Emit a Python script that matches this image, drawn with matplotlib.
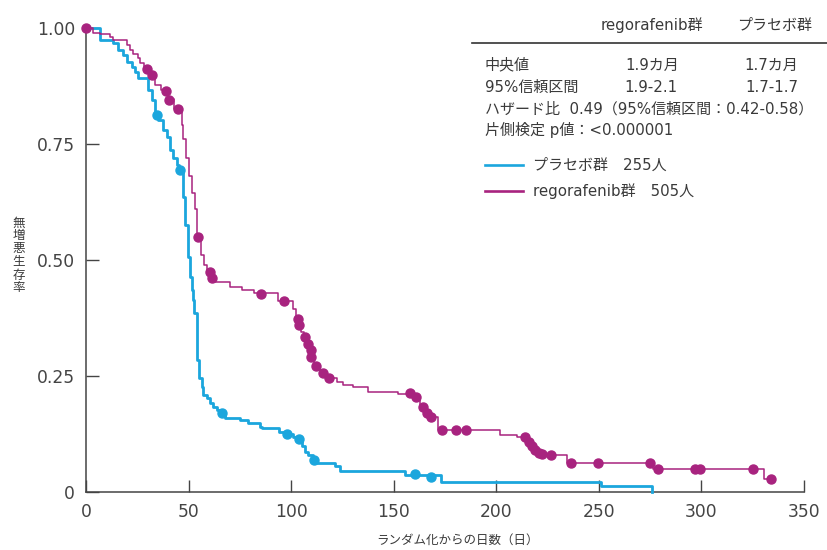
import matplotlib.pyplot as plt

plt.rcParams['font.family'] = ['DejaVu Sans', 'Noto Sans CJK JP']

# Kaplan-Meier steps (days, survival after step)
t_rego = [0, 3.6, 6.8, 11.7, 13.3, 19.9, 21.5, 23, 25.5, 26.3, 28.5, 31.5, 33.7, 36.5, 40, 43,
          46.7, 47.5, 48.6, 50, 51.5, 53, 54.3, 56, 57.5, 59, 61, 62.5, 70, 76, 82, 93.7,
          101, 102.5, 103.5, 105, 106.5, 107.5, 109, 109.8, 111, 114, 117, 122.3, 125.4, 130,
          137.6, 152, 160, 163, 165, 167, 171.7, 202, 210, 215, 216.5, 218, 219.5, 221, 223,
          234.5, 276.6, 330.7, 333.7]
s_rego = [1.0, 0.989, 0.986, 0.981, 0.974, 0.963, 0.953, 0.945, 0.935, 0.925, 0.912, 0.899,
          0.877, 0.866, 0.846, 0.826, 0.79, 0.76, 0.72, 0.68, 0.645, 0.61, 0.55, 0.51, 0.49,
          0.475, 0.461, 0.453, 0.442, 0.435, 0.428, 0.412, 0.395, 0.373, 0.36, 0.345, 0.333,
          0.32, 0.307, 0.29, 0.272, 0.257, 0.246, 0.238, 0.231, 0.226, 0.216, 0.211, 0.204,
          0.184, 0.17, 0.161, 0.134, 0.123, 0.119, 0.108, 0.099, 0.09, 0.085, 0.082, 0.079,
          0.062, 0.049, 0.027, 0.027]
cens_t_rego = [0, 29.6, 32, 39, 40.6, 45, 54.6, 60.5, 61.6, 85.2, 96.7, 103.1, 103.9, 106.8,
               108.1, 109.8, 109.8, 112.2, 115.4, 118.5, 158, 161, 164.5, 166, 168, 173.5,
               180.3, 185.2, 214, 215.8, 217.4, 219, 220.6, 222.3, 226.7, 236.4, 249.4, 274.8,
               278.7, 296.7, 299.5, 325.2, 333.7]
cens_s_rego = [1.0, 0.911, 0.899, 0.864, 0.845, 0.826, 0.549, 0.475, 0.461, 0.427, 0.412,
               0.373, 0.36, 0.333, 0.32, 0.307, 0.29, 0.272, 0.257, 0.246, 0.213, 0.204,
               0.184, 0.17, 0.161, 0.134, 0.134, 0.134, 0.119, 0.108, 0.099, 0.09, 0.085,
               0.082, 0.079, 0.062, 0.062, 0.062, 0.049, 0.049, 0.049, 0.049, 0.027]

t_plac = [0, 6.8, 13.2, 15.6, 18, 19.8, 22.3, 23.9, 25.5, 30.3, 32, 33.5, 35, 37.6, 39.4, 41,
          42.6, 44.2, 45.5, 47.2, 48.3, 49.6, 50.7, 51.5, 52.3, 52.8, 54.3, 55.1, 56.4, 57.2,
          58.9, 60.5, 62.1, 63.7, 65.5, 67.8, 75, 79, 84.9, 86, 94.3, 97, 101, 103, 105.2,
          106.8, 108.4, 110.5, 112.5, 121.5, 123.9, 155.6, 173.2, 251, 276]
s_plac = [1.0, 0.974, 0.967, 0.953, 0.942, 0.927, 0.917, 0.906, 0.892, 0.866, 0.845, 0.815,
          0.802, 0.78, 0.766, 0.737, 0.719, 0.705, 0.694, 0.636, 0.575, 0.507, 0.464, 0.435,
          0.414, 0.385, 0.284, 0.245, 0.227, 0.209, 0.202, 0.191, 0.184, 0.177, 0.171, 0.159,
          0.155, 0.148, 0.141, 0.137, 0.13, 0.125, 0.119, 0.1135, 0.099, 0.087, 0.08, 0.07,
          0.062, 0.056, 0.046, 0.036, 0.022, 0.0136, 0.0]
cens_t_plac = [34.5, 45.9, 66.2, 97.9, 103.6, 110.9, 160.5, 168.1]
cens_s_plac = [0.8125, 0.694, 0.171, 0.125, 0.1135, 0.07, 0.039, 0.033]

x_ticks = [0, 50, 100, 150, 200, 250, 300, 350]
y_ticks = [0, 0.25, 0.5, 0.75, 1.0]
y_tick_labels = ['0', '0.25', '0.50', '0.75', '1.00']

col_plac = '#1BA6DD'
col_rego = '#A8237F'
col_text = '#3a3a3a'

fig = plt.figure(figsize=(8.27, 5.5), dpi=100)
ax = fig.add_axes([86 / 827, 58 / 550, 718 / 827, 464 / 550])

ax.step(t_plac, s_plac, where='post', color=col_plac, lw=2.0, clip_on=False, zorder=3)
ax.plot(cens_t_plac, cens_s_plac, 'o', color=col_plac, ms=6.5, clip_on=False, zorder=4)
ax.step(t_rego, s_rego, where='post', color=col_rego, lw=1.1, clip_on=False, zorder=3)
ax.plot(cens_t_rego, cens_s_rego, 'o', color=col_rego, ms=6.5, clip_on=False, zorder=4)

ax.set_xlim(0, 350)
ax.set_ylim(0, 1.0)
ax.set_xticks(x_ticks)
ax.set_xticklabels([str(v) for v in x_ticks])
ax.set_yticks(y_ticks)
ax.set_yticklabels(y_tick_labels)
ax.tick_params(direction='in', length=9, width=1, color='#444444',
               labelcolor='#444444', labelsize=12.3)
ax.tick_params(axis='x', pad=8)
ax.tick_params(axis='y', pad=8)
for side in ['top', 'right']:
    ax.spines[side].set_visible(False)
for side in ['left', 'bottom']:
    ax.spines[side].set_color('#444444')
    ax.spines[side].set_linewidth(1.1)


def px(x, y):
    return x / 827, 1 - y / 550


fig.text(*px(457, 540), 'ランダム化からの日数（日）', fontsize=9, color=col_text,
         ha='center', va='center')
for i, ch in enumerate('無増悪生存率'):
    fig.text(*px(19, 223 + 13 * i), ch, fontsize=9, color=col_text,
             ha='center', va='center')

fs = 10.8
fig.text(*px(652, 25), 'regorafenib群', fontsize=fs, color=col_text, ha='center', va='center')
fig.text(*px(775, 25), 'プラセボ群', fontsize=fs, color=col_text, ha='center', va='center')
fig.add_artist(plt.Line2D([472 / 827, 1.0], [1 - 43 / 550] * 2, color='#333333', lw=1.2))
fig.text(*px(485, 65), '中央値', fontsize=fs, color=col_text, ha='left', va='center')
fig.text(*px(652, 65), '1.9カ月', fontsize=fs, color=col_text, ha='center', va='center')
fig.text(*px(771, 65), '1.7カ月', fontsize=fs, color=col_text, ha='center', va='center')
fig.text(*px(485, 87), '95%信頼区間', fontsize=fs, color=col_text, ha='left', va='center')
fig.text(*px(651, 87), '1.9-2.1', fontsize=fs, color=col_text, ha='center', va='center')
fig.text(*px(772, 87), '1.7-1.7', fontsize=fs, color=col_text, ha='center', va='center')
fig.text(*px(485, 109), 'ハザード比  0.49（95%信頼区間：0.42-0.58）', fontsize=fs,
         color=col_text, ha='left', va='center')
fig.text(*px(485, 130), '片側検定 p値：<0.000001', fontsize=fs, color=col_text,
         ha='left', va='center')

fig.add_artist(plt.Line2D([485 / 827, 523 / 827], [1 - 165 / 550] * 2, color=col_plac, lw=1.9))
fig.add_artist(plt.Line2D([485 / 827, 523 / 827], [1 - 191 / 550] * 2, color=col_rego, lw=1.9))
fig.text(*px(533, 165), 'プラセボ群　255人', fontsize=fs, color=col_text, ha='left', va='center')
fig.text(*px(533, 191), 'regorafenib群　505人', fontsize=fs, color=col_text, ha='left', va='center')

fig.savefig('out.png', dpi=100)
